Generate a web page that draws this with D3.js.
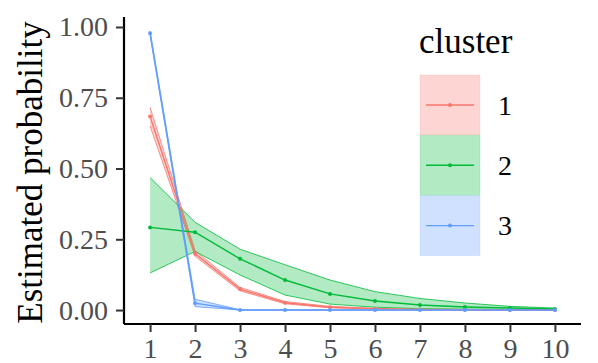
<!DOCTYPE html>
<html><head><meta charset="utf-8">
<script src="https://cdn.jsdelivr.net/npm/d3@7"></script>
<style>body{margin:0;background:#fff}svg{display:block}text{font-family:'Liberation Serif','Times New Roman',serif}</style>
</head><body>
<script>
const xCats = [1,2,3,4,5,6,7,8,9,10];
const clusters = ["1","2","3"];
const colors = ["#F8766D","#00BA38","#619CFF"];
const yTicks = [0,0.25,0.5,0.75,1.0];
const yTickLabels = ["0.00","0.25","0.50","0.75","1.00"];
// cluster 1
const mean1  = [0.684,0.199,0.074,0.026,0.010,0.005,0.002,0.001,0.0005,0.0002];
const lower1 = [0.650,0.190,0.068,0.022,0.008,0.003,0.001,0.0005,0.0002,0.0001];
const upper1 = [0.716,0.210,0.080,0.030,0.013,0.006,0.003,0.0015,0.0008,0.0004];
// cluster 2
const mean2  = [0.292,0.275,0.181,0.106,0.057,0.032,0.018,0.011,0.007,0.004];
const lower2 = [0.131,0.207,0.124,0.053,0.021,0.010,0.005,0.003,0.002,0.001];
const upper2 = [0.468,0.310,0.215,0.160,0.106,0.065,0.041,0.025,0.013,0.007];
// cluster 3
const mean3  = [0.978,0.024,0.000,0.000,0.000,0.000,0.000,0.000,0.000,0.000];
const lower3 = [0.970,0.012,0.000,0.000,0.000,0.000,0.000,0.000,0.000,0.000];
const upper3 = [0.986,0.038,0.001,0.000,0.000,0.000,0.000,0.000,0.000,0.000];

const series = [
  {name:clusters[0], color:colors[0], mean:mean1, lower:lower1, upper:upper1},
  {name:clusters[1], color:colors[1], mean:mean2, lower:lower2, upper:upper2},
  {name:clusters[2], color:colors[2], mean:mean3, lower:lower3, upper:upper3}
];

const FONT="'Liberation Serif','Times New Roman',serif";
const W=598,H=363;
const svg=d3.select("body").append("svg").attr("width",W).attr("height",H);
const m={left:124,right:17,top:17,bottom:324};
const x=d3.scalePoint().domain(xCats).range([m.left,W-m.right]).padding(0.58);
const yMax=d3.max(series,s=>d3.max(s.upper)), yMin=0;
const pad=(yMax-yMin)*0.05;
const y=d3.scaleLinear().domain([yMin-pad,yMax+pad]).range([m.bottom,m.top]);

const g=svg.append("g");
const area=d3.area().x((d,i)=>x(xCats[i])).y0(d=>y(d[0])).y1(d=>y(d[1]));
const line=d3.line().x((d,i)=>x(xCats[i])).y(d=>y(d));

series.forEach(s=>{
  const band=s.lower.map((l,i)=>[l,s.upper[i]]);
  g.append("path").attr("d",area(band)).attr("fill",s.color).attr("fill-opacity",0.3).attr("stroke","none");
  g.append("path").attr("d",line(s.lower)).attr("fill","none").attr("stroke",s.color).attr("stroke-width",0.8);
  g.append("path").attr("d",line(s.upper)).attr("fill","none").attr("stroke",s.color).attr("stroke-width",0.8);
});
series.forEach(s=>{
  g.append("path").attr("d",line(s.mean)).attr("fill","none").attr("stroke",s.color).attr("stroke-width",1.4);
  g.selectAll(null).data(s.mean).enter().append("circle")
    .attr("cx",(d,i)=>x(xCats[i])).attr("cy",d=>y(d)).attr("r",2).attr("fill",s.color);
});

// axes
const yAxis=d3.axisLeft(y).tickValues(yTicks).tickFormat((d,i)=>yTickLabels[i]).tickSize(8).tickPadding(8);
const ya=svg.append("g").attr("transform",`translate(${m.left},0)`).call(yAxis);
ya.select(".domain").attr("d",`M0,${m.top}V${m.bottom}`).attr("stroke","#000").attr("stroke-width",2.2);
ya.selectAll(".tick line").attr("stroke","#333").attr("stroke-width",2);
ya.selectAll(".tick text").style("font-family",FONT).attr("font-size",28).attr("fill","#4d4d4d");

const xAxis=d3.axisBottom(x).tickSize(8).tickPadding(6);
const xa=svg.append("g").attr("transform",`translate(0,${m.bottom})`).call(xAxis);
xa.select(".domain").attr("d",`M${m.left},0H${W-m.right}`).attr("stroke","#000").attr("stroke-width",2.2);
xa.selectAll(".tick line").attr("stroke","#333").attr("stroke-width",2);
xa.selectAll(".tick text").style("font-family",FONT).attr("font-size",28).attr("fill","#4d4d4d");

svg.append("text").attr("transform",`translate(42,${(m.top+m.bottom)/2+2}) rotate(-90)`)
  .attr("text-anchor","middle").style("font-family",FONT).attr("font-size",35)
  .attr("fill","#000").text("Estimated probability");

// legend
const lg=svg.append("g");
lg.append("text").attr("x",419).attr("y",53).style("font-family",FONT)
  .attr("font-size",35).attr("fill","#000").text("cluster");
series.forEach((s,i)=>{
  const ky=75+i*60.3;
  lg.append("rect").attr("x",420).attr("y",ky).attr("width",60).attr("height",60)
    .attr("fill",s.color).attr("fill-opacity",0.3).attr("stroke",s.color).attr("stroke-opacity",0.15).attr("stroke-width",0.8);
  lg.append("line").attr("x1",426).attr("x2",474).attr("y1",ky+30).attr("y2",ky+30)
    .attr("stroke",s.color).attr("stroke-width",1.4);
  lg.append("circle").attr("cx",450).attr("cy",ky+30).attr("r",2).attr("fill",s.color);
  lg.append("text").attr("x",498).attr("y",ky+30).attr("dy","0.35em").style("font-family",FONT)
    .attr("font-size",28).attr("fill","#000").text(s.name);
});
</script>
</body></html>
